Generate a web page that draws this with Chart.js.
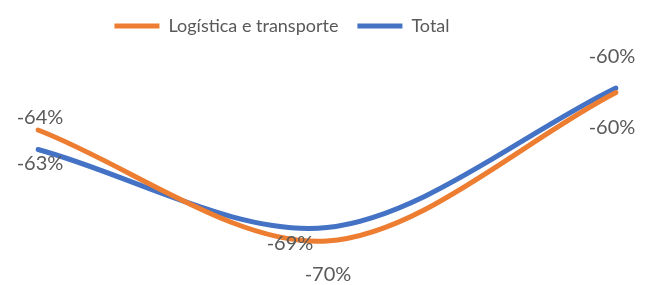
<!DOCTYPE html>
<html>
<head>
<meta charset="utf-8">
<script src="https://cdn.jsdelivr.net/npm/chart.js@4"></script>
<style>
  html, body { margin: 0; padding: 0; background: #fff; }
  #wrap { width: 650px; height: 285px; }
</style>
</head>
<body>
<div id="wrap"><canvas id="chart" width="650" height="285"></canvas></div>
<script>
// ── Data ──────────────────────────────────────────────────────
const categories    = ['A', 'B', 'C'];
const logisticaVals = [-62.8, -70.2, -60.3];
const totalVals     = [-64.1, -69.3, -60.0];
const logisticaText = ['-64%', '-70%', '-60%'];
const totalText     = ['-63%', '-69%', '-60%'];

const ORANGE = '#ED7D31';
const BLUE   = '#4472C4';
const FONT   = "Lato, 'Open Sans', sans-serif";

// ── Data labels (placed by hand, like the original) ───────────
const labelOffsets = [
    [[2, -12], [1, 34], [-4, 35]],     // logística
    [[2, 14], [-37, 16], [-4, -31]]    // total
];
const labelTexts = [logisticaText, totalText];

const dataLabels = {
    id: 'dataLabels',
    afterDatasetsDraw(chart) {
        const ctx = chart.ctx;
        ctx.save();
        ctx.font = '20px ' + FONT;
        ctx.fillStyle = '#595959';
        ctx.textAlign = 'center';
        ctx.textBaseline = 'middle';
        chart.data.datasets.forEach((ds, i) => {
            chart.getDatasetMeta(i).data.forEach((pt, j) => {
                const [dx, dy] = labelOffsets[i][j];
                ctx.fillText(labelTexts[i][j], pt.x + dx, pt.y + dy);
            });
        });
        ctx.restore();
    }
};

// fixed legend height so the plot area lands where the original has it,
// and legend nudged left of the plot centre
const legendSpace = {
    id: 'legendSpace',
    beforeInit(chart) {
        const fit = chart.legend.fit;
        chart.legend.fit = function () {
            fit.call(this);
            this.height = 60;
        };
    },
    afterLayout(chart) {
        chart.legend.left  -= 45;
        chart.legend.right -= 45;
    }
};

new Chart(document.getElementById('chart').getContext('2d'), {
    type: 'line',
    data: {
        labels: categories,
        datasets: [
            {
                label: 'Logística e transporte',
                data: logisticaVals,
                borderColor: ORANGE,
                backgroundColor: ORANGE,
                borderWidth: 5,
                tension: 0.32,
                pointRadius: 0,
                borderCapStyle: 'round'
            },
            {
                label: 'Total',
                data: totalVals,
                borderColor: BLUE,
                backgroundColor: BLUE,
                borderWidth: 5,
                tension: 0.32,
                pointRadius: 0,
                borderCapStyle: 'round'
            }
        ]
    },
    options: {
        responsive: false,
        animation: false,
        layout: { padding: { left: 38, right: 34, top: -2, bottom: 17 } },
        plugins: {
            tooltip: { enabled: false },
            legend: {
                position: 'top',
                labels: {
                    font: { family: FONT, size: 18 },
                    color: '#595959',
                    boxWidth: 45,
                    boxHeight: 5,
                    padding: 19,
                    generateLabels(chart) {
                        return chart.data.datasets.map((ds, i) => ({
                            text: ds.label,
                            fillStyle: ds.borderColor,
                            strokeStyle: ds.borderColor,
                            lineWidth: 0,
                            fontColor: '#595959',
                            datasetIndex: i
                        }));
                    }
                }
            }
        },
        scales: {
            x: { display: false, offset: false },
            y: { display: false, min: -72, max: -58 }
        }
    },
    plugins: [legendSpace, dataLabels]
});
</script>
</body>
</html>
